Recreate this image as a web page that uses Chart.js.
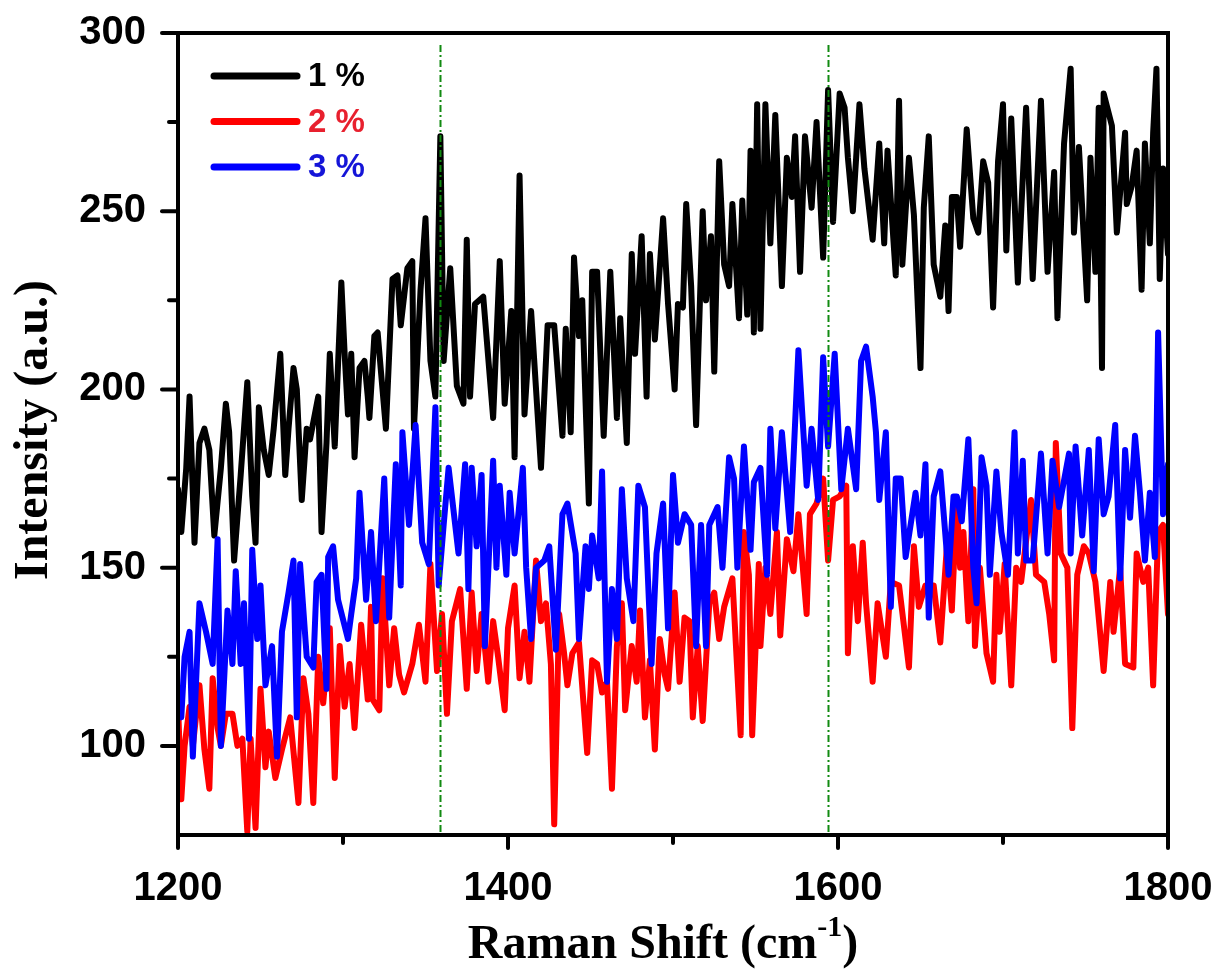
<!DOCTYPE html>
<html>
<head>
<meta charset="utf-8">
<script src="https://cdn.jsdelivr.net/npm/chart.js@4.4.1/dist/chart.umd.min.js"></script>
<style>
  html, body { margin: 0; padding: 0; background: #fff; }
  #wrap { width: 1221px; height: 980px; }
</style>
</head>
<body>
<div id="wrap"><canvas id="ramanChart" width="1221" height="980"></canvas></div>
<script>
// Raman spectra (cm-1 / a.u.)
const shift1 = [
  1200,1202,1205,1207,1210,1213,1216,1219,1222,1226,
  1229,1231,1234,1238,1242,1245,1247,1249,1252,1255,
  1258,1262,1265,1267,1270,1272,1275,1278,1280,1285,
  1287,1290,1292,1295,1299,1301,1303,1305,1307,1310,
  1313,1315,1316,1319,1321,1323,1326,1330,1333,1335,
  1339,1342,1343,1347,1350,1353,1356,1359,1361,1365,
  1369,1373,1375,1377,1380,1385,1391,1395,1398,1402,
  1404,1407,1410,1414,1420,1424,1428,1433,1435,1438,
  1440,1443,1445,1449,1451,1454,1458,1462,1466,1468,
  1472,1475,1477,1481,1484,1486,1489,1494,1497,1501,
  1503,1506,1508,1511,1514,1518,1520,1523,1525,1528,
  1531,1534,1536,1540,1542,1545,1547,1549,1551,1553,
  1556,1559,1562,1566,1569,1572,1574,1577,1580,1584,
  1587,1591,1594,1597,1601,1604,1606,1609,1613,1616,
  1621,1625,1628,1630,1635,1637,1639,1643,1646,1650,
  1652,1655,1658,1662,1665,1667,1669,1672,1674,1678,
  1682,1685,1688,1691,1694,1697,1700,1702,1705,1709,
  1714,1718,1723,1727,1731,1733,1737,1741,1743,1746,
  1751,1753,1756,1758,1760,1761,1766,1769,1774,1775,
  1778,1781,1784,1786,1789,1791,1793,1795,1797,1800
];
const intensity1 = [
  172,160,178,198,157,185,189,183,159,178,
  196,188,152,176,202,170,157,195,183,176,
  189,210,176,189,206,200,169,189,186,198,
  160,185,210,184,230,210,193,210,181,206,
  208,198,192,215,216,205,189,231,232,218,
  234,236,189,228,248,208,198,271,208,234,
  201,196,242,198,224,226,192,236,196,222,
  181,260,193,222,178,218,218,187,217,188,
  237,215,225,168,233,233,187,233,192,220,
  185,238,210,243,198,238,214,248,224,200,
  224,223,252,229,190,250,225,243,205,264,
  235,229,252,220,253,221,267,216,280,217,
  280,241,277,229,265,254,271,233,271,251,
  275,237,284,247,283,279,265,250,280,262,
  242,269,241,267,232,281,235,265,249,206,
  251,271,235,226,246,222,254,254,240,273,
  248,244,264,258,223,264,280,239,276,230,
  279,231,281,233,261,220,269,290,244,268,
  225,265,233,279,206,283,274,244,272,252,
  257,267,228,269,241,272,290,231,262,238
];

const shift2 = [
  1200,1202,1204,1207,1209,1213,1216,1219,1221,1224,
  1226,1229,1233,1236,1239,1242,1244,1247,1250,1253,
  1255,1259,1263,1268,1273,1276,1279,1282,1285,1288,
  1292,1295,1298,1301,1304,1307,1311,1315,1317,1318,
  1322,1324,1328,1331,1334,1337,1342,1346,1350,1353,
  1357,1360,1363,1366,1371,1375,1378,1381,1384,1388,
  1391,1394,1398,1400,1404,1407,1410,1413,1417,1420,
  1423,1426,1428,1431,1434,1436,1439,1443,1448,1451,
  1454,1457,1460,1463,1466,1469,1471,1475,1478,1480,
  1483,1486,1489,1492,1495,1497,1501,1504,1507,1510,
  1512,1515,1518,1522,1525,1528,1531,1536,1541,1543,
  1546,1548,1552,1553,1556,1559,1563,1565,1569,1573,
  1576,1581,1583,1587,1591,1594,1597,1601,1605,1606,
  1609,1612,1615,1617,1621,1624,1629,1632,1637,1643,
  1646,1649,1653,1658,1662,1666,1669,1672,1674,1676,
  1679,1682,1683,1686,1690,1694,1696,1698,1701,1705,
  1708,1711,1717,1720,1725,1728,1731,1732,1735,1739,
  1742,1745,1749,1752,1756,1761,1765,1767,1771,1774,
  1779,1781,1785,1788,1791,1794,1797,1800
];
const intensity2 = [
  112,85,100,111,100,117,99,88,119,105,
  100,109,109,100,102,76,102,77,116,94,
  104,91,99,108,84,119,109,84,125,112,
  133,91,128,111,123,105,134,113,139,113,
  110,147,117,133,120,115,123,134,118,151,
  121,137,109,135,144,116,143,121,137,118,
  135,125,110,133,145,119,132,118,152,135,
  140,123,78,137,126,117,126,129,98,124,
  123,115,118,88,128,140,110,128,118,138,
  108,124,99,130,120,116,143,118,136,135,
  108,128,107,140,143,130,139,147,103,160,
  148,103,151,128,150,137,160,131,158,149,
  165,137,165,168,175,152,169,170,173,126,
  156,135,157,140,118,140,125,146,145,122,
  156,139,145,145,129,156,138,169,150,160,
  135,172,128,150,126,118,148,132,151,117,
  150,146,169,148,146,137,124,185,154,150,
  105,148,156,154,146,121,146,132,150,123,
  122,154,146,150,117,160,162,137
];

const shift3 = [
  1200,1202,1204,1207,1209,1213,1217,1221,1224,1226,
  1230,1233,1235,1238,1240,1243,1245,1248,1250,1253,
  1257,1260,1263,1267,1270,1272,1274,1278,1282,1284,
  1287,1290,1291,1294,1297,1303,1305,1308,1310,1314,
  1317,1320,1325,1328,1332,1335,1336,1340,1344,1348,
  1352,1356,1358,1361,1364,1370,1374,1376,1378,1381,
  1384,1386,1391,1393,1395,1399,1401,1404,1409,1411,
  1414,1417,1422,1425,1429,1433,1436,1441,1443,1447,
  1449,1451,1455,1457,1460,1463,1466,1469,1472,1476,
  1479,1483,1487,1490,1494,1497,1500,1503,1507,1511,
  1514,1517,1520,1522,1527,1530,1534,1537,1539,1543,
  1547,1549,1553,1557,1559,1562,1566,1571,1576,1581,
  1584,1588,1591,1594,1598,1602,1606,1611,1614,1617,
  1621,1623,1625,1629,1632,1635,1638,1641,1647,1650,
  1653,1655,1658,1662,1667,1670,1672,1675,1679,1682,
  1684,1687,1690,1692,1696,1699,1703,1707,1709,1712,
  1714,1718,1723,1727,1730,1734,1740,1741,1744,1748,
  1752,1755,1758,1761,1764,1768,1771,1774,1777,1780,
  1783,1786,1789,1792,1794,1797,1800
];
const intensity3 = [
  115,108,125,132,97,140,132,123,158,100,
  138,123,149,123,140,102,155,130,145,117,
  128,97,132,143,152,108,151,125,122,146,
  148,116,153,156,141,130,137,147,171,141,
  160,135,175,136,179,145,188,162,190,157,
  151,195,145,162,178,154,179,144,178,156,
  176,128,180,150,173,148,171,154,178,150,
  130,150,152,156,127,165,168,154,130,156,
  144,159,147,177,118,144,130,172,147,135,
  173,167,123,154,168,133,176,157,165,162,
  128,162,128,162,167,150,181,175,150,184,
  155,174,178,148,189,161,188,160,211,173,
  189,169,209,184,210,172,189,172,208,212,
  198,188,169,188,139,175,175,153,171,159,
  179,136,170,177,148,170,170,163,186,150,
  140,181,173,148,177,160,148,188,154,180,
  152,152,182,154,180,167,182,154,184,159,
  183,149,186,165,170,190,147,183,164,187,
  171,152,171,153,216,165,179
];

const seriesLabels = ['1 %', '2 %', '3 %'];
const lineColors = ['#000000', '#ff0000', '#0000ff'];
const labelColors = ['#000000', '#e8202e', '#1515d8'];

// axis ticks and the two marker lines (D and G bands)
const xMajorTicks = [1200, 1400, 1600, 1800];
const xMinorTicks = [1300, 1500, 1700];
const yMajorTicks = [100, 150, 200, 250, 300];
const yMinorTicks = [125, 175, 225, 275];
const bandLines = [1359, 1594];

const toPoints = (xs, ys) => xs.map((x, i) => ({ x: x, y: ys[i] }));

const frame = {
  id: 'frame',
  afterDatasetsDraw(chart) {
    const { ctx, chartArea: a, scales } = chart;
    const xs = scales.x, ys = scales.y;
    ctx.save();

    // green dash-dot band markers
    ctx.strokeStyle = '#118a11';
    ctx.lineWidth = 2;
    ctx.setLineDash([7, 3, 2, 3]);
    bandLines.forEach(v => {
      const px = Math.round(xs.getPixelForValue(v)) + 0.5;
      ctx.beginPath();
      ctx.moveTo(px, a.top + 12);
      ctx.lineTo(px, a.bottom);
      ctx.stroke();
    });
    ctx.setLineDash([]);

    // box
    ctx.strokeStyle = '#000';
    ctx.lineWidth = 4;
    ctx.strokeRect(a.left, a.top, a.right - a.left, a.bottom - a.top);

    // ticks, outward
    ctx.lineCap = 'round';
    const tick = (x1, y1, x2, y2) => { ctx.beginPath(); ctx.moveTo(x1, y1); ctx.lineTo(x2, y2); ctx.stroke(); };
    xMajorTicks.forEach(v => { const p = xs.getPixelForValue(v); tick(p, a.bottom, p, a.bottom + 13); });
    xMinorTicks.forEach(v => { const p = xs.getPixelForValue(v); tick(p, a.bottom, p, a.bottom + 8); });
    yMajorTicks.forEach(v => { const p = ys.getPixelForValue(v); tick(a.left, p, a.left - 16, p); });
    yMinorTicks.forEach(v => { const p = ys.getPixelForValue(v); tick(a.left, p, a.left - 9, p); });

    // legend
    ctx.lineWidth = 7;
    ctx.font = 'bold 33px "Liberation Sans", Arial, sans-serif';
    ctx.textBaseline = 'middle';
    seriesLabels.forEach((lab, i) => {
      const y = a.top + 43 + i * 45.5;
      ctx.strokeStyle = lineColors[i];
      tick(a.left + 36, y, a.left + 119, y);
      ctx.fillStyle = labelColors[i];
      ctx.fillText(lab, a.left + 130, y + 1);
    });

    // axis titles
    ctx.fillStyle = '#000';
    ctx.textBaseline = 'alphabetic';
    const big = 'bold 48px "Liberation Serif", "Times New Roman", serif';
    const sup = 'bold 30px "Liberation Serif", "Times New Roman", serif';
    ctx.font = big;
    const t1 = 'Raman Shift (cm', t3 = ')';
    const w1 = ctx.measureText(t1).width, w3 = ctx.measureText(t3).width;
    ctx.font = sup;
    const w2 = ctx.measureText('-1').width;
    let x0 = (a.left + a.right) / 2 - 10 - (w1 + w2 + w3) / 2;
    const base = 958;
    ctx.font = big; ctx.fillText(t1, x0, base);
    ctx.font = sup; ctx.fillText('-1', x0 + w1, base - 22);
    ctx.font = big; ctx.fillText(t3, x0 + w1 + w2, base);

    ctx.save();
    ctx.translate(47, (a.top + a.bottom) / 2 - 4);
    ctx.rotate(-Math.PI / 2);
    ctx.textAlign = 'center';
    ctx.font = big;
    ctx.fillText('Intensity (a.u.)', 0, 0);
    ctx.restore();

    ctx.restore();
  }
};

const makeSet = (i, xs, ys, order) => ({
  label: seriesLabels[i],
  data: toPoints(xs, ys),
  borderColor: lineColors[i],
  borderWidth: 6,
  borderJoinStyle: 'round',
  borderCapStyle: 'round',
  pointRadius: 0,
  tension: 0,
  fill: false,
  order: order
});

new Chart(document.getElementById('ramanChart'), {
  type: 'line',
  data: {
    datasets: [
      makeSet(0, shift1, intensity1, 2),
      makeSet(1, shift2, intensity2, 1),
      makeSet(2, shift3, intensity3, 0)
    ]
  },
  options: {
    responsive: false,
    devicePixelRatio: 1,
    animation: false,
    layout: { padding: { top: 33, right: 53, left: 0, bottom: 0 } },
    plugins: { legend: { display: false }, tooltip: { enabled: false } },
    scales: {
      x: {
        type: 'linear',
        min: 1200, max: 1800,
        afterFit: s => { s.height = 145; s.paddingLeft = 0; s.paddingRight = 0; },
        grid: { display: true, drawOnChartArea: false, drawTicks: false, color: 'rgba(0,0,0,0)' },
        border: { display: false },
        ticks: {
          stepSize: 200,
          padding: 30,
          color: '#000',
          font: { family: '"Liberation Sans", Arial, sans-serif', size: 40, weight: 'bold' },
          maxRotation: 0,
          callback: v => String(v)
        }
      },
      y: {
        min: 75, max: 300,
        afterFit: s => { s.width = 178; s.paddingTop = 0; s.paddingBottom = 0; },
        grid: { display: true, drawOnChartArea: false, drawTicks: false, color: 'rgba(0,0,0,0)' },
        border: { display: false },
        ticks: {
          stepSize: 25,
          padding: 32,
          color: '#000',
          font: { family: '"Liberation Sans", Arial, sans-serif', size: 40, weight: 'bold' },
          callback: v => (v % 50 === 0 && v >= 100 ? String(v) : '')
        }
      }
    }
  },
  plugins: [frame]
});
</script>
</body>
</html>
